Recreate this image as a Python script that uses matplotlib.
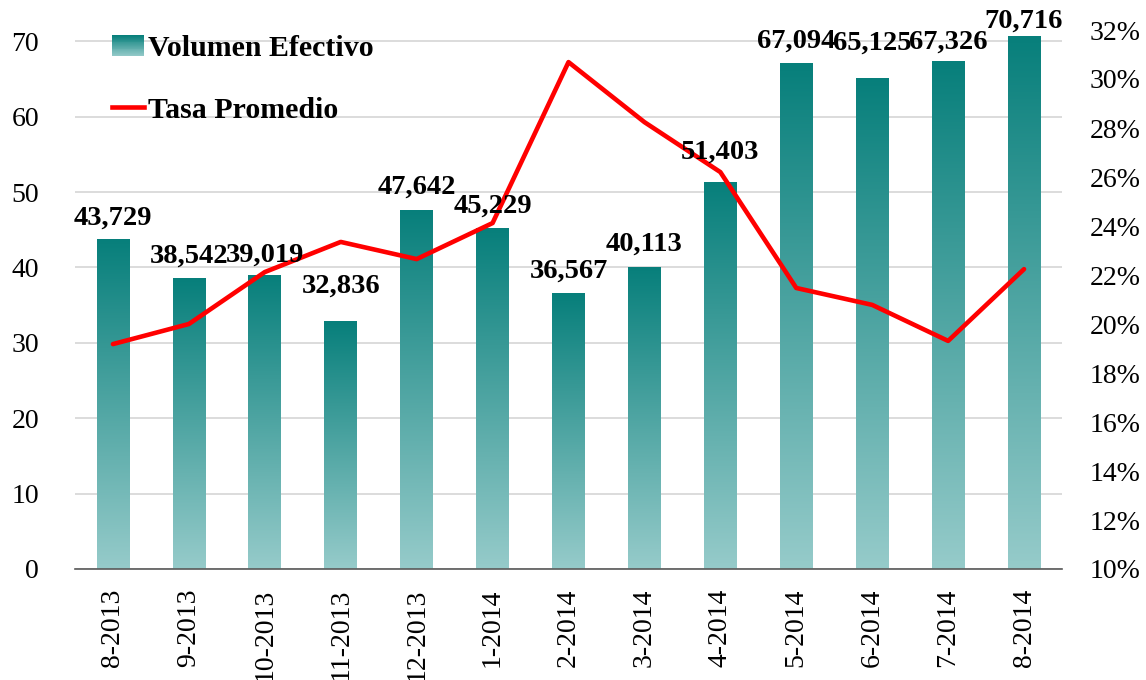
import numpy as np
import matplotlib
matplotlib.use("Agg")
import matplotlib.pyplot as plt
from matplotlib.colors import LinearSegmentedColormap
from matplotlib.legend_handler import HandlerBase
from matplotlib.lines import Line2D
from matplotlib.patches import Rectangle
from matplotlib.ticker import FuncFormatter

meses = [
    "8-2013", "9-2013", "10-2013", "11-2013", "12-2013", "1-2014", "2-2014",
    "3-2014", "4-2014", "5-2014", "6-2014", "7-2014", "8-2014",
]
# volumen efectivo en miles
volumen = [43.729, 38.542, 39.019, 32.836, 47.642, 45.229, 36.567,
           40.113, 51.403, 67.094, 65.125, 67.326, 70.716]
tasa = [0.1918, 0.2000, 0.2212, 0.2335, 0.2265, 0.2412, 0.3069,
        0.2824, 0.2620, 0.2147, 0.2078, 0.1931, 0.2224]

# separacion de cada etiqueta sobre su barra (px)
label_lift = [15, 16, 13, 29, 16, 15, 16, 16, 23, 16, 28, 13, 8]

FONT = "Liberation Serif"
teal = LinearSegmentedColormap.from_list("teal", ["#96cbca", "#077f7b"])
grad = np.linspace(0, 1, 256).reshape(-1, 1)


class GradientHandler(HandlerBase):
    """Dibuja el cuadro de la leyenda con el mismo degradado de las barras"""

    def create_artists(self, legend, orig_handle, xdescent, ydescent,
                       width, height, fontsize, trans):
        n = 24
        arts = []
        for i in range(n):
            r = Rectangle((-xdescent, -ydescent + height * i / n), width,
                          height / n * 1.05, facecolor=teal(i / (n - 1)),
                          edgecolor="none", transform=trans)
            arts.append(r)
        return arts


fig = plt.figure(figsize=(11.46, 6.8), dpi=100)
ax = fig.add_axes([75 / 1146, 111 / 680, 987 / 1146, 539 / 680])
ax2 = ax.twinx()

x = np.arange(len(meses))
bars = ax.bar(x, volumen, width=0.43, color="none", edgecolor="none", zorder=2)
for b in bars:
    im = ax.imshow(grad, extent=(b.get_x(), b.get_x() + b.get_width(), 0, b.get_height()),
                   origin="lower", aspect="auto", cmap=teal, zorder=2)
    im.set_clip_path(b)

ax.set_xlim(-0.5, len(meses) - 0.5)
ax.set_ylim(0, 71.5)
ax.set_yticks(range(0, 80, 10))
ax.yaxis.grid(True, color="#d9d9d9", linewidth=1.3)
ax.set_axisbelow(True)
ax.set_xticks(x)
ax.set_xticklabels(meses, rotation=90, fontfamily=FONT, fontsize=20)
for lab in ax.get_yticklabels():
    lab.set_fontfamily(FONT)
    lab.set_fontsize(20)
ax.tick_params(axis="x", length=0, pad=14)
ax.tick_params(axis="y", length=0, pad=26)
for s in ["top", "left", "right"]:
    ax.spines[s].set_visible(False)
ax.spines["bottom"].set_color("#595959")
ax.spines["bottom"].set_linewidth(1.2)

ax2.plot(x, tasa, color="#ff0000", linewidth=3.3, solid_joinstyle="round",
         solid_capstyle="round", zorder=3)
ax2.set_ylim(0.10, 0.32)
ax2.set_yticks(np.arange(0.10, 0.3201, 0.02))
ax2.yaxis.set_major_formatter(FuncFormatter(lambda v, p: f"{v * 100:.0f}%"))
for lab in ax2.get_yticklabels():
    lab.set_fontfamily(FONT)
    lab.set_fontsize(20)
ax2.tick_params(axis="y", length=0, pad=20)
for s in ax2.spines.values():
    s.set_visible(False)

for i, v in enumerate(volumen):
    ax2.annotate(f"{v * 1000:,.0f}", xy=(x[i], v), xycoords=ax.transData,
                 xytext=(0, label_lift[i] * 0.72), textcoords="offset points",
                 ha="center", va="baseline", fontfamily=FONT, fontsize=20.5,
                 fontweight="bold", zorder=5)

h_bar = Rectangle((0, 0), 1, 1, label="Volumen Efectivo")
h_line = Line2D([], [], color="#ff0000", linewidth=3.3, label="Tasa Promedio")
ax2.legend(handles=[h_bar, h_line], handler_map={h_bar: GradientHandler()},
           loc="upper left", bbox_to_anchor=(0.037, 0.99), frameon=False,
           borderaxespad=0, borderpad=0, handlelength=1.1, handletextpad=0.12,
           labelspacing=1.15, prop={"family": FONT, "weight": "bold", "size": 21.5})

fig.savefig("out.png", dpi=100)
